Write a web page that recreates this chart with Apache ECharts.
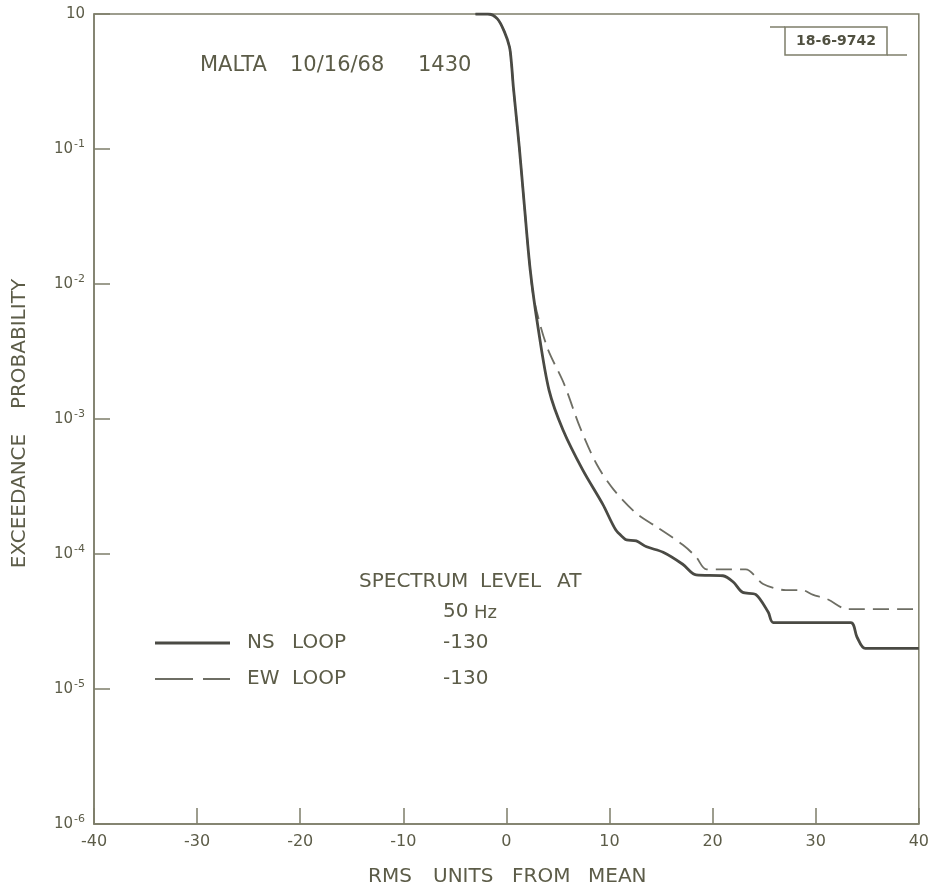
<!DOCTYPE html>
<html>
<head>
<meta charset="utf-8">
<script src="https://cdn.jsdelivr.net/npm/echarts@6/dist/echarts.min.js"></script>
<style>html,body{margin:0;padding:0;background:#fff}#c{width:932px;height:888px}</style>
</head>
<body>
<div id="c"></div>
<script>
// ---- data ----
const nsX = [-3, -1.8, -0.87, -0.2, 0.3, 0.48, 0.67, 0.96, 1.25, 1.73, 2.31, 3.08, 4.14, 5.49, 7.4, 9.34, 10.6, 11.4, 11.66, 12.6, 13.6, 15.2, 17.1, 18.4, 21.0, 22.0, 22.9, 24.2, 25.4, 25.9, 33.4, 34.0, 34.8, 40];
const nsY = [1, 1, 0.92, 0.74, 0.57, 0.44, 0.29, 0.173, 0.103, 0.039, 0.0127, 4.7e-3, 1.63e-3, 8.3e-4, 4.2e-4, 2.34e-4, 1.51e-4, 1.31e-4, 1.27e-4, 1.25e-4, 1.13e-4, 1.03e-4, 8.4e-5, 7.0e-5, 6.9e-5, 6.2e-5, 5.2e-5, 5.0e-5, 3.7e-5, 3.1e-5, 3.1e-5, 2.43e-5, 2.0e-5, 2.0e-5];
const ewX = [2.7, 3.95, 5.59, 7.13, 8.77, 10.4, 12.6, 14.5, 17.1, 18.4, 19.4, 23.2, 24.9, 27.1, 28.7, 29.7, 31.2, 33.1, 40];
const ewY = [7.5e-3, 3.4e-3, 1.82e-3, 8.7e-4, 4.6e-4, 3.0e-4, 2.0e-4, 1.6e-4, 1.17e-4, 9.5e-5, 7.7e-5, 7.7e-5, 6.0e-5, 5.4e-5, 5.4e-5, 5.0e-5, 4.6e-5, 3.9e-5, 3.9e-5];
const xTicks = [-40, -30, -20, -10, 0, 10, 20, 30, 40];
const yTickExp = [0, -1, -2, -3, -4, -5, -6];
const seriesNames = ['NS', 'EW'];
const spectrumLevels = ['-130', '-130'];

const textColor = '#5c5c48';
const axisColor = '#7e7e6a';
const F = '"DejaVu Sans"';

const nsData = nsX.map((x, i) => [x, nsY[i]]);
// EW follows NS until the curves separate
const ewData = nsData.filter(p => p[0] < ewX[0]).concat(ewX.map((x, i) => [x, ewY[i]]));

function txt(x, y, s, size, extra) {
  return Object.assign({type: 'text', x: x, y: y, style: {text: s, fill: textColor, font: size + 'px ' + F, verticalAlign: 'middle', align: 'left'}}, extra || {});
}

const chart = echarts.init(document.getElementById('c'), null, {renderer: 'canvas'});
chart.setOption({
  backgroundColor: '#ffffff',
  animation: false,
  grid: {left: 94, right: 7, top: 14, bottom: 64, show: true, borderColor: axisColor, borderWidth: 1.5, backgroundColor: 'transparent'},
  xAxis: {
    type: 'value', min: -40, max: 40, interval: 10,
    axisLine: {show: true, onZero: false, lineStyle: {color: axisColor, width: 1.5}},
    axisTick: {show: true, inside: true, length: 16, lineStyle: {color: axisColor, width: 1.5}},
    splitLine: {show: false},
    axisLabel: {color: textColor, fontSize: 16, fontFamily: 'DejaVu Sans', margin: 10,
      formatter: v => xTicks.includes(v) ? String(v) : ''}
  },
  yAxis: {
    type: 'log', logBase: 10, min: 1e-6, max: 1,
    axisLine: {show: true, onZero: false, lineStyle: {color: axisColor, width: 1.5}},
    axisTick: {show: true, inside: true, length: 16, lineStyle: {color: axisColor, width: 1.5}},
    minorTick: {show: false},
    splitLine: {show: false},
    axisLabel: {color: textColor, fontSize: 15, fontFamily: 'DejaVu Sans', margin: 9,
      formatter: v => {
        const e = Math.round(Math.log10(v));
        if (!yTickExp.includes(e)) return '';
        return e === 0 ? '10' : '10{sup|' + e + '}';
      },
      rich: {sup: {fontSize: 11, color: textColor, fontFamily: 'DejaVu Sans', verticalAlign: 'top', padding: [0, 0, 10, 1]}}
    }
  },
  series: [
    {name: seriesNames[0], type: 'line', data: nsData, showSymbol: false, smooth: 0.3,
      lineStyle: {color: '#4a4a44', width: 2.8}, z: 3},
    {name: seriesNames[1], type: 'line', data: ewData, showSymbol: false, smooth: 0.3,
      lineStyle: {color: '#6e6e64', width: 1.8, type: [16, 8]}, z: 2}
  ],
  graphic: [
    txt(200, 66, 'MALTA', 21),
    txt(290, 66, '10/16/68', 21),
    txt(418, 66, '1430', 21),
    txt(20, 501, 'EXCEEDANCE', 20, {rotation: Math.PI / 2, style: {text: 'EXCEEDANCE', fill: textColor, font: '20px ' + F, align: 'center', verticalAlign: 'middle'}}),
    txt(20, 344, 'PROBABILITY', 20, {rotation: Math.PI / 2, style: {text: 'PROBABILITY', fill: textColor, font: '20px ' + F, align: 'center', verticalAlign: 'middle'}}),
    txt(368, 877, 'RMS', 20),
    txt(433, 877, 'UNITS', 20),
    txt(512, 877, 'FROM', 20),
    txt(588, 877, 'MEAN', 20),
    txt(359, 582, 'SPECTRUM', 20),
    txt(480, 582, 'LEVEL', 20),
    txt(557, 582, 'AT', 20),
    txt(443, 612, '50', 20),
    txt(474, 613, 'Hz', 18),
    {type: 'line', shape: {x1: 155, y1: 643, x2: 230, y2: 643}, style: {stroke: '#4a4a44', lineWidth: 2.8}},
    {type: 'line', shape: {x1: 155, y1: 679, x2: 230, y2: 679}, style: {stroke: '#6e6e64', lineWidth: 1.8, lineDash: [38, 10]}},
    txt(247, 643, seriesNames[0], 20),
    txt(292, 643, 'LOOP', 20),
    txt(247, 679, seriesNames[1], 20),
    txt(292, 679, 'LOOP', 20),
    txt(443, 643, spectrumLevels[0], 20),
    txt(443, 679, spectrumLevels[1], 20),
    {type: 'rect', shape: {x: 785, y: 27, width: 102, height: 28}, style: {fill: 'none', stroke: axisColor, lineWidth: 1.5}},
    {type: 'line', shape: {x1: 770, y1: 27, x2: 785, y2: 27}, style: {stroke: axisColor, lineWidth: 1.5}},
    {type: 'line', shape: {x1: 887, y1: 55, x2: 907, y2: 55}, style: {stroke: axisColor, lineWidth: 1.5}},
    {type: 'text', x: 836, y: 41, style: {text: '18-6-9742', fill: '#505040', font: 'bold 14px ' + F, align: 'center', verticalAlign: 'middle'}}
  ]
});
</script>
</body>
</html>
